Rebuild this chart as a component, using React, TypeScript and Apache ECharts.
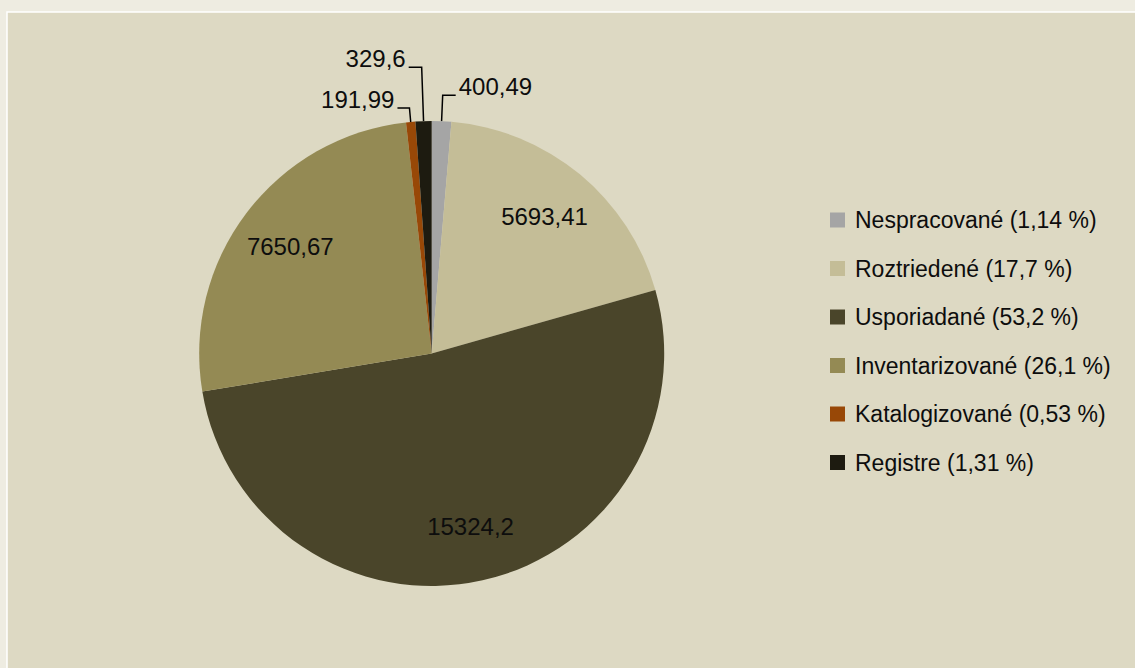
import React, { useEffect, useRef } from "react";
import * as echarts from "echarts";

const categories = [
  "Nespracované",
  "Roztriedené",
  "Usporiadané",
  "Inventarizované",
  "Katalogizované",
  "Registre",
];
const values = [400.49, 5693.41, 15324.2, 7650.67, 191.99, 329.6];
const legendPercents = ["1,14 %", "17,7 %", "53,2 %", "26,1 %", "0,53 %", "1,31 %"];

// styles (kept separate from data)
const colors = ["#A5A5A5", "#C4BD97", "#4A452A", "#948A54", "#984807", "#1D1B10"];
// leader line lengths for the slices labelled outside
const outsideLines: Record<string, [number, number]> = {
  Nespracované: [26, 13],
  Katalogizované: [14, 12],
  Registre: [54, 13],
};

const FONT = "Liberation Sans";
const fmt = (v: number) => String(v).replace(".", ",");

export default function App() {
  const ref = useRef<HTMLDivElement>(null);
  useEffect(() => {
    if (!ref.current) return;
    const chart = echarts.init(ref.current, null, { renderer: "svg" });
    const cx = 431.7;
    const cy = 353.5;
    const R = 232.5;

    const mainData = categories.map((name, i) => {
      const ol = outsideLines[name];
      return {
        name,
        value: values[i],
        itemStyle: { color: colors[i] },
        label: ol
          ? {
              show: true,
              position: "outside",
              distanceToLabelLine: 3,
              formatter: (p: any) => `{t|${fmt(p.value)}}\n{s| }`,
              rich: {
                t: {
                  fontFamily: FONT,
                  fontSize: 24,
                  lineHeight: 26,
                  color: "#0D0D0D",
                },
                s: { fontSize: 4, lineHeight: 18 },
              },
            }
          : { show: false },
        labelLine: ol
          ? { show: true, length: ol[0], length2: ol[1] }
          : { show: false },
      };
    });

    const overlayData = categories.map((name, i) => ({
      name,
      value: values[i],
      itemStyle: { color: "rgba(0,0,0,0)" },
      label: { show: !outsideLines[name] },
      labelLine: { show: false },
    }));

    chart.setOption({
      animation: false,
      backgroundColor: "#EEECE1",
      graphic: [
        {
          type: "rect",
          z: -10,
          silent: true,
          shape: { x: 7, y: 12, width: 1300, height: 800 },
          style: { fill: "#DDD9C3", stroke: "#FFFFFF", lineWidth: 1.5 },
        },
      ],
      legend: {
        orient: "vertical",
        left: 830,
        top: 207,
        padding: 0,
        itemWidth: 15,
        itemHeight: 15,
        itemGap: 22.5,
        icon: "rect",
        data: categories,
        formatter: (name: string) =>
          `${name} (${legendPercents[categories.indexOf(name)]})`,
        textStyle: {
          fontFamily: FONT,
          fontSize: 23,
          lineHeight: 26,
          color: "#0D0D0D",
          padding: [0, 0, 0, 5],
        },
      },
      series: [
        {
          type: "pie",
          center: [cx, cy],
          radius: [0, R],
          startAngle: 90,
          clockwise: true,
          avoidLabelOverlap: false,
          silent: true,
          itemStyle: { borderWidth: 0 },
          labelLine: {
            lineStyle: { color: "#000000", width: 1.5 },
            smooth: false,
          },
          data: mainData,
        },
        {
          type: "pie",
          center: [cx, cy],
          radius: [R * 0.5, R],
          startAngle: 90,
          clockwise: true,
          avoidLabelOverlap: false,
          silent: true,
          z: 3,
          itemStyle: { borderWidth: 0 },
          label: {
            position: "inside",
            fontFamily: FONT,
            fontSize: 24,
            color: "#0D0D0D",
            formatter: (p: any) => fmt(p.value),
          },
          data: overlayData,
        },
      ],
    });
    return () => chart.dispose();
  }, []);
  return (
    <div
      ref={ref}
      style={{ position: "fixed", left: 0, top: 0, width: 1135, height: 668 }}
    />
  );
}
